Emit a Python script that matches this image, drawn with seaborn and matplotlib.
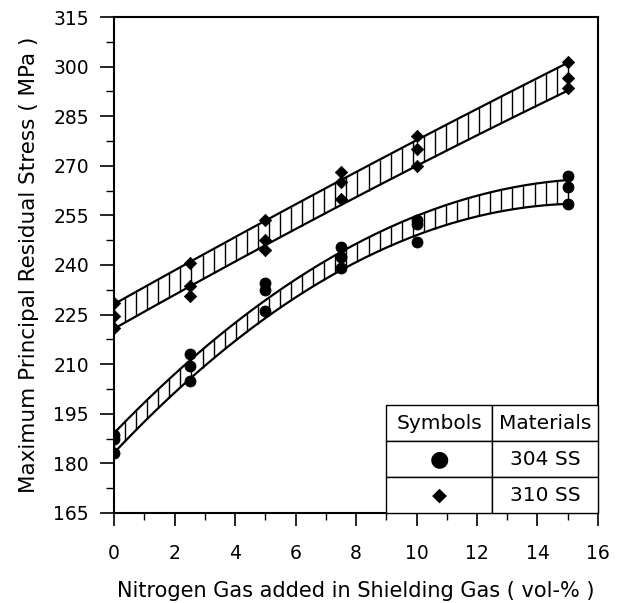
import numpy as np
import pandas as pd
import matplotlib
matplotlib.use("Agg")
import matplotlib.pyplot as plt
import seaborn as sns
from matplotlib.ticker import MultipleLocator

# ---- data ----
x_levels = [0, 2.5, 5, 7.5, 10, 15]
ss304_vals = [
    [188.5, 187.5, 183.0],
    [213.0, 209.5, 205.0],
    [234.5, 232.5, 226.0],
    [245.5, 242.5, 239.0],
    [253.5, 252.5, 247.0],
    [267.0, 263.5, 258.5],
]
ss310_vals = [
    [228.5, 224.5, 221.0],
    [240.5, 233.5, 230.5],
    [253.5, 247.5, 244.5],
    [268.0, 265.0, 260.0],
    [279.0, 275.0, 270.0],
    [301.5, 296.5, 293.5],
]
# band edges
ss304_upper = [188.5, 212.0, 229.5, 244.0, 254.0, 266.0]
ss304_lower = [183.0, 206.0, 223.5, 238.5, 249.0, 258.5]
ss310_upper = [228.5, 240.5, 253.0, 266.0, 278.0, 301.0]
ss310_lower = [221.5, 232.5, 245.0, 259.5, 270.0, 292.5]

materials = ["304 SS", "310 SS"]
x_ticks = [0, 2, 4, 6, 8, 10, 12, 14, 16]
y_ticks = [165, 180, 195, 210, 225, 240, 255, 270, 285, 300, 315]

rows = []
for mat, vals in zip(materials, [ss304_vals, ss310_vals]):
    for xv, ys in zip(x_levels, vals):
        for yv in ys:
            rows.append({"N2": xv, "stress": yv, "material": mat})
df = pd.DataFrame(rows)

sns.set_style("white")
plt.rcParams["font.family"] = ["DejaVu Sans"]
plt.rcParams["text.color"] = "black"
plt.rcParams["axes.labelcolor"] = "black"
plt.rcParams["xtick.color"] = "black"
plt.rcParams["ytick.color"] = "black"

fig = plt.figure(figsize=(6.2, 6.03), dpi=100)
ax = fig.add_axes([0.1839, 0.1493, 0.7806, 0.8225])

# bands
xs_fine = np.linspace(0, 15, 200)
xs_hatch = np.linspace(0, 15, 42)
for up, lo in [(ss304_upper, ss304_lower), (ss310_upper, ss310_lower)]:
    pu = np.polyfit(x_levels, up, 2)
    pl = np.polyfit(x_levels, lo, 2)
    ax.plot(xs_fine, np.polyval(pu, xs_fine), color="black", lw=1.6, zorder=2)
    ax.plot(xs_fine, np.polyval(pl, xs_fine), color="black", lw=1.6, zorder=2)
    ax.vlines(xs_hatch, np.polyval(pl, xs_hatch), np.polyval(pu, xs_hatch),
              color="black", lw=1.0, zorder=2)

marker_map = {"304 SS": "o", "310 SS": "D"}
size_map = {"304 SS": 62, "310 SS": 40}
for mat in materials:
    sns.scatterplot(data=df[df["material"] == mat], x="N2", y="stress",
                    marker=marker_map[mat], s=size_map[mat],
                    color="black", edgecolor="black",
                    legend=False, ax=ax, zorder=3)

ax.set_xlim(0, 16)
ax.set_ylim(165, 315)
ax.set_xticks(x_ticks)
ax.set_yticks(y_ticks)
ax.xaxis.set_minor_locator(MultipleLocator(1))
ax.yaxis.set_minor_locator(MultipleLocator(7.5))
ax.tick_params(axis="x", which="major", direction="out", length=9, width=1.2,
               labelsize=13.5, pad=13, bottom=True, top=False)
ax.tick_params(axis="x", which="minor", direction="out", length=5, width=1.0,
               bottom=True, top=False)
ax.tick_params(axis="y", which="major", direction="out", length=10, width=1.2,
               labelsize=13.5, pad=8, left=True, right=False)
ax.tick_params(axis="y", which="minor", direction="out", length=6, width=1.0,
               left=True, right=False)
for sp in ax.spines.values():
    sp.set_visible(True)
    sp.set_color("black")
    sp.set_linewidth(1.5)

ax.set_xlabel("Nitrogen Gas added in Shielding Gas ( vol-% )", fontsize=15, labelpad=13)
ax.set_ylabel("Maximum Principal Residual Stress ( MPa )", fontsize=15.5, labelpad=10)

# legend table
cell_text = [["Symbols", "Materials"], ["\u25CF", materials[0]], ["\u25C6", materials[1]]]
tbl = ax.table(cellText=cell_text, cellLoc="center",
               bbox=[0.5625, 0.0, 0.4375, 0.2167], zorder=4)
tbl.auto_set_font_size(False)
tbl.set_fontsize(14.5)
for (r, c), cell in tbl.get_celld().items():
    cell.set_edgecolor("black")
    cell.set_linewidth(1.0)
    cell.set_facecolor("white")
    cell.PAD = 0.02
    if c == 0 and r > 0:
        cell.get_text().set_fontsize(16 if r == 1 else 14)

fig.savefig("out.png", dpi=100)
